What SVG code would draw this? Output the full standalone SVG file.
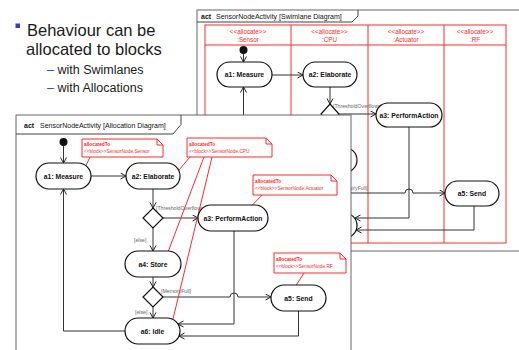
<svg xmlns="http://www.w3.org/2000/svg" width="519" height="350" viewBox="0 0 519 350">
  <defs>
    <marker id="arr" markerUnits="userSpaceOnUse" markerWidth="8" markerHeight="8" refX="6" refY="3.5" orient="auto">
      <path d="M0.5,0.5 L6,3.5 L0.5,6.5" fill="none" stroke="#222" stroke-width="1"/>
    </marker>
  </defs>
  <style>
    .frame { fill: #fff; stroke: #666; stroke-width: 1; }
    .hdr { fill: none; stroke: #444; stroke-width: 1; }
    .act { font-family: "Liberation Sans", Arial, sans-serif; font-size: 7px; fill: #111; }
    .actb { font-weight: bold; }
    .node { fill: #fff; stroke: #111; stroke-width: 1.2; }
    .lbl { font-family: "Liberation Sans", Arial, sans-serif; font-size: 6.8px; font-weight: bold; fill: #111; text-anchor: middle; }
    .edge { fill: none; stroke: #333; stroke-width: 1; }
    .arrow { marker-end: url(#arr); }
    .guard { font-family: "Liberation Sans", Arial, sans-serif; font-size: 5.2px; fill: #666; }
    .note { fill: #fff; stroke: #ff2a2a; stroke-width: 1; }
    .ntxt { font-family: "Liberation Sans", Arial, sans-serif; font-size: 4.8px; fill: #ff2a2a; }
    .red { fill: none; stroke: #ff2a2a; stroke-width: 1; }
    .lane { font-family: "Liberation Sans", Arial, sans-serif; font-size: 6.3px; fill: #ff2a2a; text-anchor: middle; }
    .bul { font-family: "Liberation Sans", Arial, sans-serif; fill: #1a1a1a; }
  </style>

  <!-- Bullet text -->
  <g id="bullets">
    <rect x="15.5" y="23.5" width="4.5" height="4.5" fill="#3a3acc"/>
    <text class="bul" x="27" y="36" font-size="16.5">Behaviour can be</text>
    <text class="bul" x="26" y="55" font-size="16.5">allocated to blocks</text>
    <text class="bul" x="47" y="74" font-size="12.5"><tspan fill="#3a3acc">–</tspan> with Swimlanes</text>
    <text class="bul" x="47" y="92" font-size="12.5"><tspan fill="#3a3acc">–</tspan> with Allocations</text>
  </g>

  <!-- Swimlane diagram (background) -->
  <g id="swimlaneDiagram">
    <rect class="frame" x="197" y="10" width="330" height="241"/>
    <path class="hdr" d="M197,22 H352 L358,16 V10"/>
    <text class="act actb" x="201" y="18.5">act</text>
    <text class="act" x="216" y="18.5">SensorNodeActivity [Swimlane Diagram]</text>

    <g id="lanes">
      <rect class="red" x="205" y="25" width="301" height="218"/>
      <path class="red" d="M205,45 H506 M291,25 V243 M368,25 V243 M444,25 V243"/>
      <text class="lane" x="248" y="34">&lt;&lt;allocate&gt;&gt;</text>
      <text class="lane" x="248" y="41.5">:Sensor</text>
      <text class="lane" x="329.5" y="34">&lt;&lt;allocate&gt;&gt;</text>
      <text class="lane" x="329.5" y="41.5">:CPU</text>
      <text class="lane" x="406" y="34">&lt;&lt;allocate&gt;&gt;</text>
      <text class="lane" x="406" y="41.5">:Actuator</text>
      <text class="lane" x="475" y="34">&lt;&lt;allocate&gt;&gt;</text>
      <text class="lane" x="475" y="41.5">:RF</text>
    </g>

    <g id="sl-edges">
      <path class="edge arrow" d="M243.5,54 V62"/>
      <path class="edge arrow" d="M272,75 H303"/>
      <path class="edge arrow" d="M330,87 V104"/>
      <path class="edge arrow" d="M243.5,140 V87"/>
      <path class="edge arrow" d="M339,114 H376"/>
      <path class="edge arrow" d="M409,127 V218 H355"/>
      <path class="edge arrow" d="M474,206 V230 H356"/>
      <path class="edge arrow" d="M340,193 H405 A4,4 0 0 1 413,193 H445"/>
      <text class="guard" x="333" y="108">[ThresholdOverflown]</text>
      <text class="guard" x="337.5" y="189.5">[MemoryFull]</text>
    </g>

    <g id="sl-initial"><circle cx="243.5" cy="50" r="4" fill="#111"/></g>
    <g id="sl-a1"><rect class="node" x="217" y="62" width="55" height="25" rx="12.5"/><text class="lbl" x="244.5" y="77">a1: Measure</text></g>
    <g id="sl-a2"><rect class="node" x="303" y="62" width="54" height="25" rx="12.5"/><text class="lbl" x="330" y="77">a2: Elaborate</text></g>
    <g id="sl-d1"><path class="node" d="M330,104 L339,114 L330,124 L321,114 Z"/></g>
    <g id="sl-a3"><rect class="node" x="376" y="103" width="66" height="24" rx="12"/><text class="lbl" x="409" y="117.5">a3: PerformAction</text></g>
    <g id="sl-a4"><rect class="node" x="303" y="147.5" width="54" height="25" rx="12.5"/><text class="lbl" x="330" y="162.5">a4: Store</text></g>
    <g id="sl-a5"><rect class="node" x="445" y="181" width="54" height="25" rx="12.5"/><text class="lbl" x="472" y="196">a5: Send</text></g>
    <g id="sl-a6"><rect class="node" x="303" y="213" width="54" height="25" rx="12.5"/><text class="lbl" x="330" y="228">a6: Idle</text></g>
  </g>

  <!-- Allocation diagram (foreground) -->
  <g id="allocationDiagram">
    <rect class="frame" x="16" y="115" width="335" height="250"/>
    <path class="hdr" d="M16,134 H173 L181,124.5 V115"/>
    <text class="act actb" x="24" y="127.5">act</text>
    <text class="act" x="40" y="127.5">SensorNodeActivity [Allocation Diagram]</text>

    <g id="connectors">
      <path class="edge arrow" d="M63.5,146 V163"/>
      <path class="edge arrow" d="M91,176 H126"/>
      <path class="edge arrow" d="M153,189 V208"/>
      <path class="edge arrow" d="M163,218 H198"/>
      <path class="edge arrow" d="M153,228 V251"/>
      <path class="edge arrow" d="M153,277 V287"/>
      <path class="edge arrow" d="M153,307 V318"/>
      <path class="edge arrow" d="M163,297 H230 A4,4 0 0 1 238,297 H271"/>
      <path class="edge arrow" d="M234,231 V324 H178"/>
      <path class="edge arrow" d="M298.5,311 V336 H179"/>
      <path class="edge arrow" d="M125,331 H63.5 V189"/>
      <text class="guard" x="156" y="210">[ThresholdOverflown]</text>
      <text class="guard" x="134" y="241.5">[else]</text>
      <text class="guard" x="161" y="292.5">[MemoryFull]</text>
      <text class="guard" x="135" y="313.5">[else]</text>
    </g>

    <g id="allocation-links">
      <path class="red" d="M90,157 L86,165.5"/>
      <path class="red" d="M190,157 L179,170"/>
      <path class="red" d="M262,195 L252,205.5"/>
      <path class="red" d="M304,273 L296,285.5"/>
      <path class="red" d="M204,157 L168,252"/>
      <path class="red" d="M212,157 L173,319"/>
    </g>

    <g id="initial"><circle cx="63.5" cy="142" r="4" fill="#111"/></g>
    <g id="a1"><rect class="node" x="36" y="163" width="55" height="26" rx="13"/><text class="lbl" x="63.5" y="178.5">a1: Measure</text></g>
    <g id="a2"><rect class="node" x="126" y="163" width="54" height="26" rx="13"/><text class="lbl" x="153" y="178.5">a2: Elaborate</text></g>
    <g id="d1"><path class="node" d="M153,208 L163,218 L153,228 L143,218 Z"/></g>
    <g id="a3"><rect class="node" x="198" y="205" width="70" height="26" rx="13"/><text class="lbl" x="233" y="220.5">a3: PerformAction</text></g>
    <g id="a4"><rect class="node" x="125" y="251" width="56" height="26" rx="13"/><text class="lbl" x="153" y="266.5">a4: Store</text></g>
    <g id="d2"><path class="node" d="M153,287 L163,297 L153,307 L143,297 Z"/></g>
    <g id="a5"><rect class="node" x="271" y="285" width="55" height="26" rx="13"/><text class="lbl" x="298.5" y="300.5">a5: Send</text></g>
    <g id="a6"><rect class="node" x="125" y="318" width="55" height="26" rx="13"/><text class="lbl" x="152.5" y="333.5">a6: Idle</text></g>

    <g id="note-sensor">
      <path class="note" d="M82,139 H157 L163,145 V157 H82 Z M157,139 V145 H163"/>
      <text class="ntxt" x="84" y="145.5" font-weight="bold">allocatedTo</text>
      <text class="ntxt" x="84" y="152.5">&lt;&lt;block&gt;&gt;SensorNode.Sensor</text>
    </g>
    <g id="note-cpu">
      <path class="note" d="M187,138 H266 L272,144 V157 H187 Z M266,138 V144 H272"/>
      <text class="ntxt" x="189" y="145.5" font-weight="bold">allocatedTo</text>
      <text class="ntxt" x="189" y="152.5">&lt;&lt;block&gt;&gt;SensorNode.CPU</text>
    </g>
    <g id="note-actuator">
      <path class="note" d="M253,175 H331 L337,181 V195 H253 Z M331,175 V181 H337"/>
      <text class="ntxt" x="255" y="183" font-weight="bold">allocatedTo</text>
      <text class="ntxt" x="255" y="190">&lt;&lt;block&gt;&gt;SensorNode.Actuator</text>
    </g>
    <g id="note-rf">
      <path class="note" d="M274,253 H340 L346,259 V273 H274 Z M340,253 V259 H346"/>
      <text class="ntxt" x="276" y="261" font-weight="bold">allocatedTo</text>
      <text class="ntxt" x="276" y="268">&lt;&lt;block&gt;&gt;SensorNode.RF</text>
    </g>
  </g>
</svg>
